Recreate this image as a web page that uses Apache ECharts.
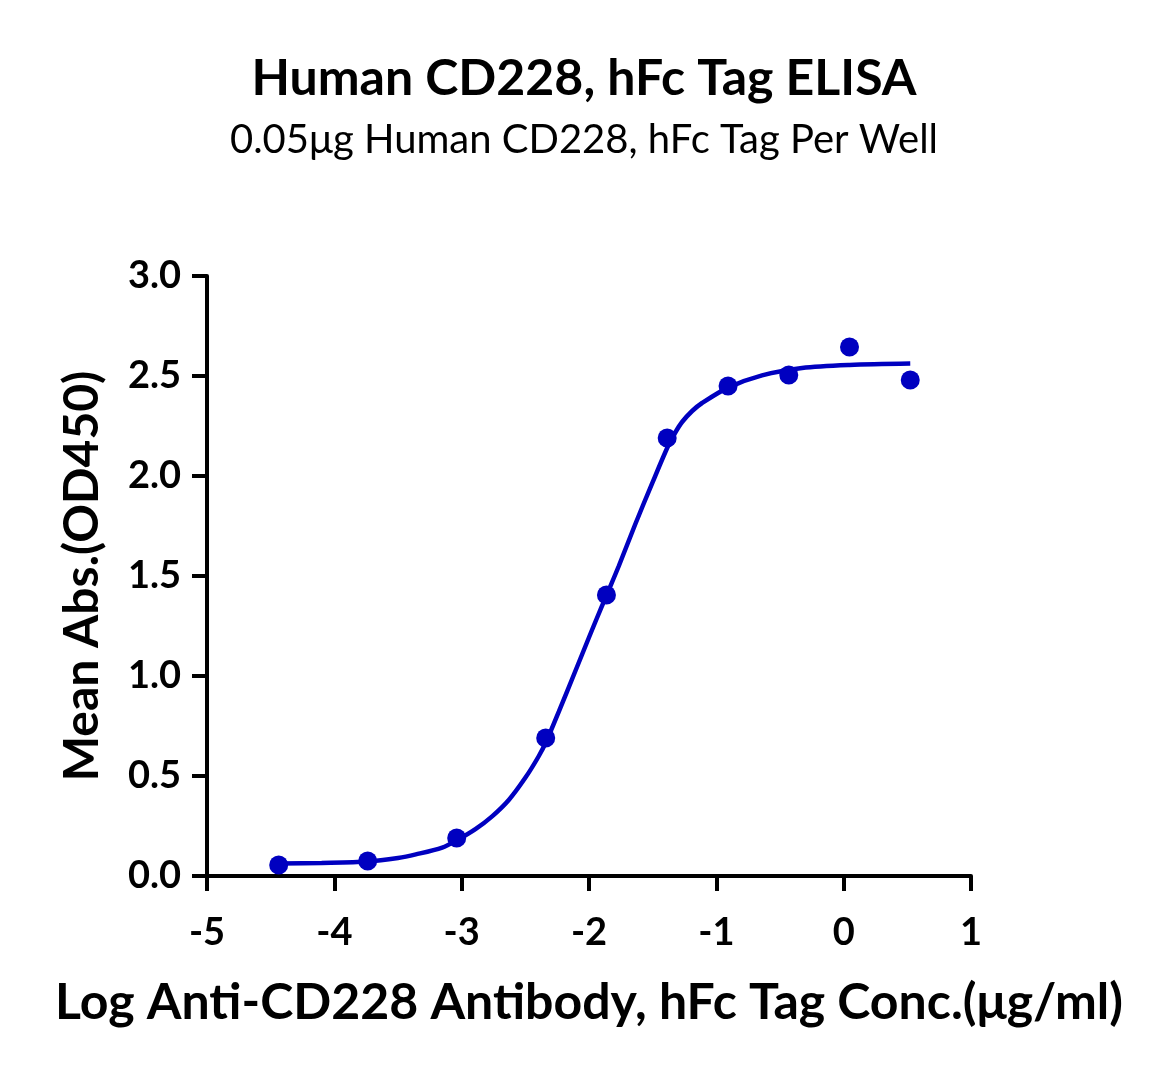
<!DOCTYPE html>
<html>
<head>
<meta charset="utf-8">
<title>Human CD228, hFc Tag ELISA</title>
<script src="https://cdn.jsdelivr.net/npm/echarts@6/dist/echarts.min.js"></script>
<style>
    html, body {
        margin: 0;
        padding: 0;
        background: #fff;
    }
    #chart {
        width: 1168px;
        height: 1076px;
    }
</style>
</head>
<body>
<div id="chart"></div>
<script>
    // measured points: log concentration (ug/ml) vs mean OD450
    var logConc = [-4.437, -3.738, -3.039, -2.340, -1.863, -1.386, -0.908, -0.431, 0.046, 0.523];
    var meanAbs = [0.055, 0.075, 0.19, 0.69, 1.405, 2.19, 2.45, 2.505, 2.645, 2.48];

    // fitted curve
    var fitX = [-4.437, -4.1, -3.738, -3.5, -3.36, -3.153, -3.039, -2.892, -2.761, -2.630, -2.499, -2.394, -2.334, -2.237,
        -2.107, -2.002, -1.944, -1.858, -1.766, -1.636, -1.505, -1.379, -1.32, -1.269, -1.19, -1.112, -0.908, -0.641, -0.327, 0.046, 0.523];
    var fitY = [0.062, 0.065, 0.072, 0.09, 0.108, 0.142, 0.178, 0.234, 0.298, 0.38, 0.492, 0.6, 0.675, 0.822,
        1.025, 1.19, 1.28, 1.41, 1.55, 1.76, 1.962, 2.15, 2.22, 2.27, 2.325, 2.365, 2.442, 2.503, 2.54, 2.555, 2.562];

    var blue = '#0000c0';
    var font = 'Lato';

    var mychart = echarts.init(document.getElementById('chart'));

    var pts = [];
    for (var i = 0; i < logConc.length; i++) {
        pts.push([logConc[i], meanAbs[i]]);
    }
    var curve = [];
    for (var j = 0; j < fitX.length; j++) {
        curve.push([fitX[j], fitY[j]]);
    }

    var tickStyle = {length: 15, lineStyle: {color: '#000', width: 4}};

    var option = {
        backgroundColor: '#fff',
        animation: false,
        title: {
            text: 'Human CD228, hFc Tag ELISA',
            subtext: '0.05μg Human CD228, hFc Tag Per Well',
            left: 'center',
            top: 49,
            itemGap: 16,
            textStyle: {fontFamily: font, fontWeight: 'bold', fontSize: 50, color: '#000'},
            subtextStyle: {fontFamily: font, fontSize: 40, color: '#000'}
        },
        grid: {
            left: 207,
            right: 197,
            top: 276,
            bottom: 200
        },
        xAxis: {
            type: 'value',
            min: -5,
            max: 1,
            interval: 1,
            name: 'Log Anti-CD228 Antibody, hFc Tag Conc.(μg/ml)',
            nameLocation: 'middle',
            nameGap: 102,
            nameTextStyle: {fontFamily: font, fontWeight: 'bold', fontSize: 50, color: '#000'},
            axisLine: {lineStyle: {color: '#000', width: 4}},
            axisTick: tickStyle,
            axisLabel: {fontFamily: font, fontWeight: 'bold', fontSize: 38, color: '#000', margin: 38},
            splitLine: {show: false}
        },
        yAxis: {
            type: 'value',
            min: 0,
            max: 3,
            interval: 0.5,
            name: 'Mean Abs.(OD450)',
            nameLocation: 'middle',
            nameGap: 100,
            nameTextStyle: {fontFamily: font, fontWeight: 'bold', fontSize: 48, color: '#000'},
            axisLine: {onZero: false, lineStyle: {color: '#000', width: 4}},
            axisTick: tickStyle,
            axisLabel: {
                fontFamily: font, fontWeight: 'bold', fontSize: 38, color: '#000', margin: 26,
                formatter: function (v) { return v.toFixed(1); }
            },
            splitLine: {show: false}
        },
        series: [
            {
                name: 'fit',
                type: 'line',
                data: curve,
                smooth: 0.3,
                showSymbol: false,
                lineStyle: {color: blue, width: 4.5},
                z: 2
            },
            {
                name: 'data',
                type: 'scatter',
                data: pts,
                symbolSize: 19,
                itemStyle: {color: blue, opacity: 1},
                z: 3
            }
        ]
    };
    mychart.setOption(option);
</script>
</body>
</html>
